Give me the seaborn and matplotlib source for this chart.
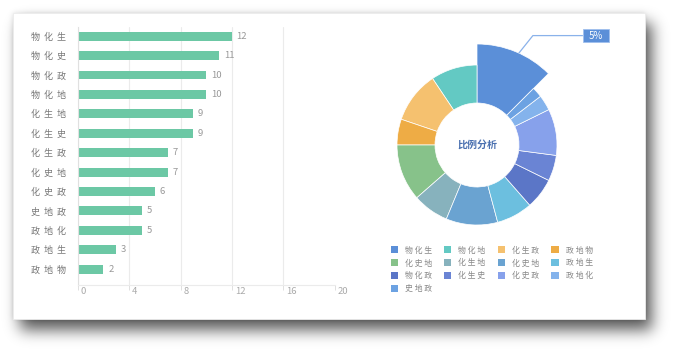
import math
import numpy as np
import pandas as pd
import matplotlib
matplotlib.use("Agg")
import matplotlib.pyplot as plt
from matplotlib.patches import Rectangle, Patch
import matplotlib.transforms as mtransforms
import seaborn as sns

# ---------------- data ----------------
bar_categories = ['物化生', '物化史', '物化政', '物化地', '化生地', '化生史', '化生政',
                  '化史地', '化史政', '史地政', '政地化', '政地生', '政地物']
bar_values = [12, 11, 10, 10, 9, 9, 7, 7, 6, 5, 5, 3, 2]
x_ticks = [0, 4, 8, 12, 16, 20]

pie_labels = ['物化生', '物化地', '化生政', '政地物', '化史地', '化生地', '化史地',
              '政地生', '物化政', '化生史', '化史政', '政地化', '史地政']
pie_values = [12, 9, 10, 5, 11, 7, 10, 7, 6, 5, 9, 3, 2]
pie_colors = ['#5b8fd8', '#63c9c3', '#f5c16f', '#eeac45', '#87c28a', '#87b2bd', '#6aa3d1',
              '#6cbfdf', '#5b76c7', '#6a84d4', '#87a1eb', '#84b3ec', '#6ca2e2']
center_title = '比例分析'
highlight_label = '5%'

BAR_COLOR = '#6cc8a5'

# ---------------- style ----------------
sns.set_theme(style='white')
plt.rcParams['font.family'] = ['Noto Sans CJK SC', 'DejaVu Sans']

W, H = 680, 355
fig = plt.figure(figsize=(W / 100, H / 100), dpi=100, facecolor='white')

# ---------------- card + shadow background ----------------
bg = fig.add_axes([0, 0, 1, 1])
bg.set_xlim(0, W)
bg.set_ylim(H, 0)
bg.axis('off')
erf = np.vectorize(math.erf)


def blurred_box(coord, a, b, s):
    return 0.5 * (erf((coord - a) / (math.sqrt(2) * s)) - erf((coord - b) / (math.sqrt(2) * s)))


xs = np.arange(W) + 0.5
ys = np.arange(H) + 0.5
card = (13, 13, 645, 319)
sh1 = blurred_box(ys, card[1] + 10, card[3] + 11, 7.5)[:, None] * blurred_box(xs, card[0] + 7, card[2] + 7, 7.5)[None, :]
sh2 = blurred_box(ys, card[1], card[3], 2.5)[:, None] * blurred_box(xs, card[0], card[2], 2.5)[None, :]
alpha = np.clip(0.65 * sh1 + 0.12 * sh2, 0, 1)
img = np.zeros((H, W, 4))
img[..., 3] = alpha
bg.imshow(img, extent=(0, W, H, 0), interpolation='bilinear', zorder=0)
bg.add_patch(Rectangle((card[0], card[1]), card[2] - card[0], card[3] - card[1],
                       facecolor='white', edgecolor='#ececec', linewidth=0.6, zorder=1))

# ---------------- bar chart ----------------
L, R, T, B = 77.7, 334.7, 26.7, 285.0
ax1 = fig.add_axes([L / W, 1 - B / H, (R - L) / W, (B - T) / H])
ax1.patch.set_alpha(0)
df = pd.DataFrame({'组合': bar_categories, '人数': bar_values})
sns.barplot(data=df, x='人数', y='组合', orient='h', color=BAR_COLOR, saturation=1,
            width=0.46, linewidth=0, ax=ax1)
ax1.set_xlabel('')
ax1.set_ylabel('')
ax1.set_xlim(0, 20)
ax1.set_ylim(12.82, -0.49)
ax1.set_xticks(x_ticks)
ax1.set_xticklabels([str(t) for t in x_ticks])
ax1.set_yticks(range(len(bar_categories)))
ax1.set_yticklabels(['  '.join(c) for c in bar_categories])
ax1.xaxis.grid(True, color='#ebebeb', linewidth=0.8)
ax1.yaxis.grid(False)
ax1.set_axisbelow(True)
ax1.get_xgridlines()[-1].set_visible(False)
for s in ['top', 'right']:
    ax1.spines[s].set_visible(False)
ax1.spines['left'].set_color('#e0e0e0')
ax1.spines['left'].set_linewidth(0.8)
ax1.spines['bottom'].set_color('#ebebeb')
ax1.spines['bottom'].set_linewidth(0.8)
ax1.tick_params(axis='y', length=0, pad=8.5, labelsize=6.5, labelcolor='#777777')
ax1.tick_params(axis='x', direction='out', length=3.6, width=0.7, color='#e0e0e0',
                pad=-2.0, labelsize=6.8, labelcolor='#aaaaaa', bottom=True)
offset = mtransforms.ScaledTranslation(3 / 100, 0, fig.dpi_scale_trans)
for lab in ax1.get_xticklabels():
    lab.set_horizontalalignment('left')
    lab.set_verticalalignment('top')
    lab.set_transform(lab.get_transform() + offset)
for cont in ax1.containers:
    ax1.bar_label(cont, padding=3.4, color='#999999', fontsize=6.8)

# ---------------- donut chart ----------------
CX, CY, HALF = 477, 145, 120
ax2 = fig.add_axes([(CX - HALF) / W, (H - CY - HALF) / H, 2 * HALF / W, 2 * HALF / H])
ax2.patch.set_alpha(0)
R_OUT, R_IN, R_BIG = 80, 42, 101
wedges, _ = ax2.pie(pie_values, colors=pie_colors, radius=R_OUT, startangle=45,
                    counterclock=True,
                    wedgeprops=dict(width=R_OUT - R_IN, edgecolor='white', linewidth=0.5))
wedges[0].set_radius(R_BIG)
wedges[0].set_width(R_BIG - R_IN)
ax2.set_xlim(-HALF, HALF)
ax2.set_ylim(-HALF, HALF)
ax2.set_aspect('equal')
ax2.axis('off')
ax2.text(0, 0, center_title, ha='center', va='center', fontsize=7.2, fontweight='bold',
         color='#4a70b0')

# highlight label with elbow connector
w0 = wedges[0]
mid = math.radians((w0.theta1 + w0.theta2) / 2 - 2)
p0 = (R_BIG * math.cos(mid), R_BIG * math.sin(mid))
elbow = (p0[0] + 14, p0[1] + 17.5)
box_l, box_w, box_h = elbow[0] + 50, 26, 13.4
ax2.plot([p0[0], elbow[0], box_l], [p0[1], elbow[1], elbow[1]], color='#8ab2ea',
         linewidth=0.9, clip_on=False, solid_capstyle='butt')
ax2.add_patch(Rectangle((box_l, elbow[1] - box_h / 2), box_w, box_h, facecolor='#5b8fd8',
                        edgecolor='#9fc0ee', linewidth=0.6, clip_on=False))
ax2.text(box_l + box_w / 2, elbow[1], highlight_label, ha='center', va='center',
         color='white', fontsize=7, clip_on=False)

# legend (row-wise order in 4 columns)
order = [0, 4, 8, 12, 1, 5, 9, 2, 6, 10, 3, 7, 11]
labels = [' '.join(pie_labels[i]) for i in order]
handles = [Patch(facecolor=pie_colors[i], edgecolor='none') for i in order]
leg = fig.legend(handles, labels, loc='upper left', bbox_to_anchor=(390.5 / W, 1 - 245.5 / H),
                 bbox_transform=fig.transFigure, ncol=4, frameon=False, fontsize=5.7,
                 handlelength=0.9, handleheight=0.9, handletextpad=0.9,
                 columnspacing=1.55, labelspacing=0.5, borderpad=0, borderaxespad=0)
for t in leg.get_texts():
    t.set_color('#888888')

fig.savefig('out.png', dpi=100, facecolor='white')
